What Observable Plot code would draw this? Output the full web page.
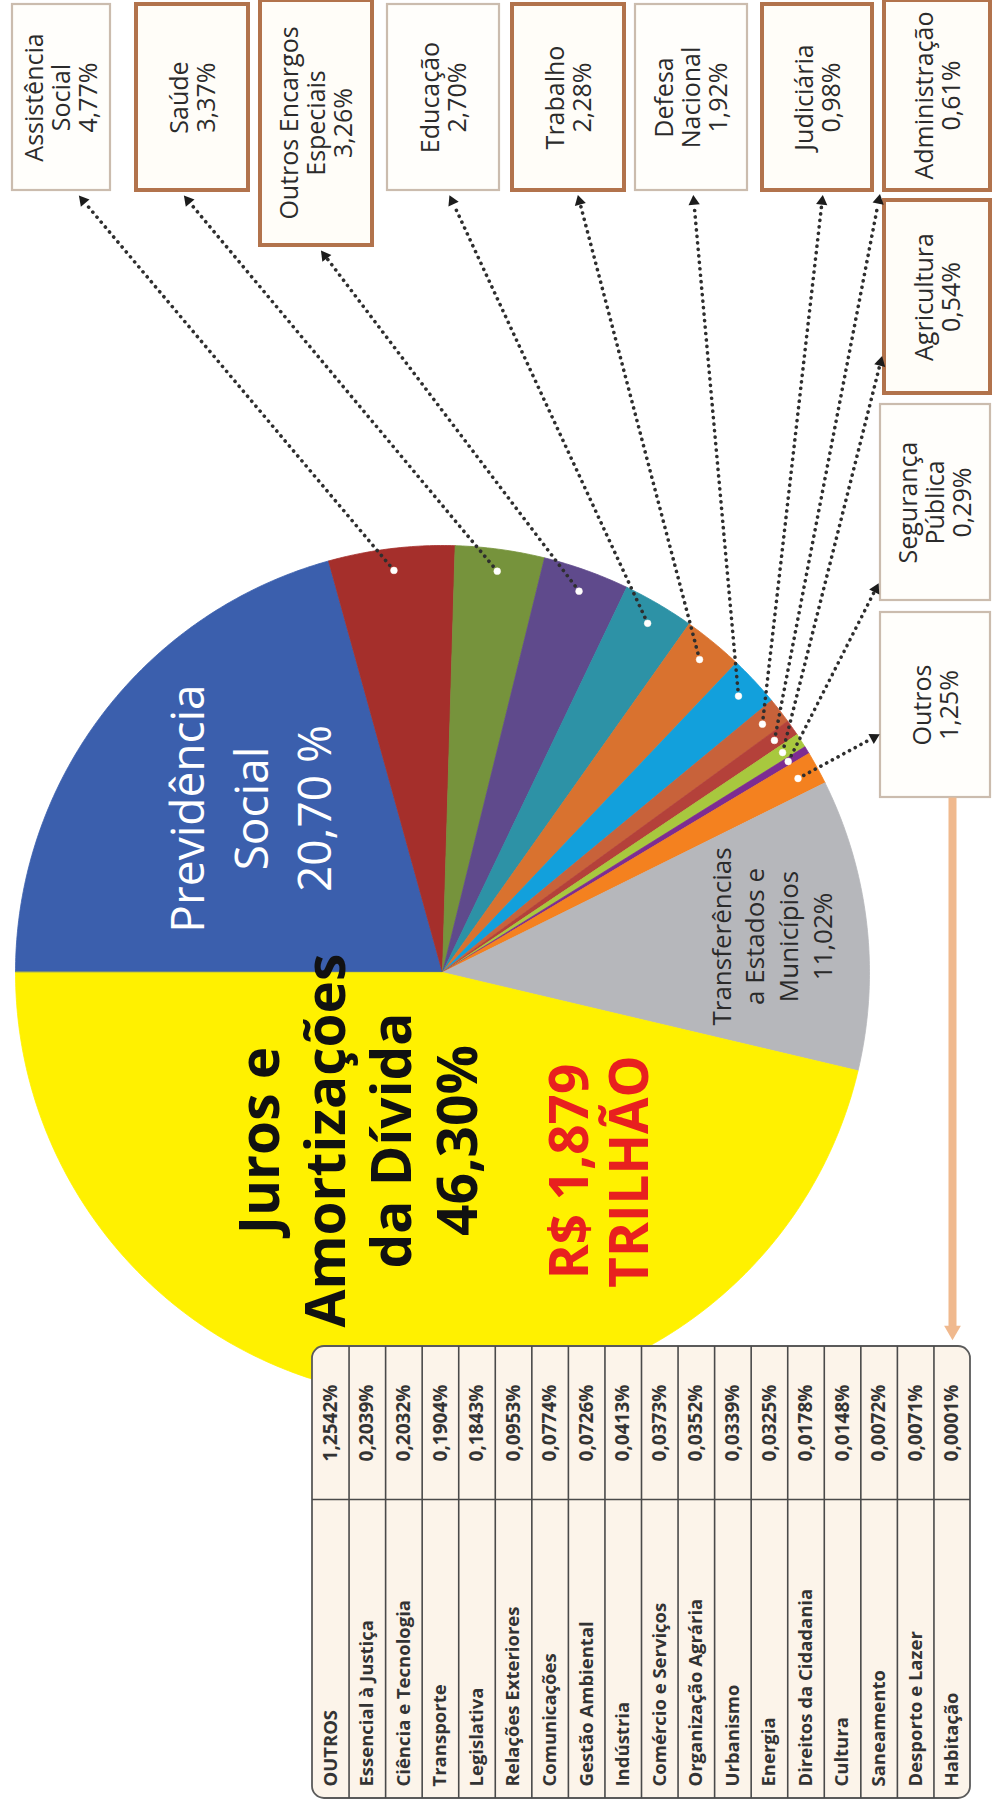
<!DOCTYPE html>
<html>
<head>
<meta charset="utf-8">
<script src="https://cdn.jsdelivr.net/npm/d3@7"></script>
<script src="https://cdn.jsdelivr.net/npm/@observablehq/plot@0.6"></script>
<style>
  html, body { margin: 0; padding: 0; background: #ffffff; }
  svg { display: block; }
</style>
</head>
<body>
<div id="chart"></div>
<script>
// ---------------- DATA ----------------
const sliceNames = [
  "Previdência Social", "Assistência Social", "Saúde", "Outros Encargos Especiais",
  "Educação", "Trabalho", "Defesa Nacional", "Judiciária", "Administração",
  "Agricultura", "Segurança Pública", "Outros",
  "Transferências a Estados e Municípios", "Juros e Amortizações da Dívida"
];
const sliceValues = [20.70, 4.77, 3.37, 3.26, 2.70, 2.28, 1.92, 0.98, 0.61, 0.54, 0.29, 1.25, 11.02, 46.30];

const insideLabels = [
  { name: "Previdência Social", text: "Previdência\nSocial\n20,70 %" },
  { name: "Juros e Amortizações da Dívida", text: "Juros e\nAmortizações\nda Dívida\n46,30%" },
  { name: "Transferências a Estados e Municípios", text: "Transferências\na Estados e\nMunicípios\n11,02%" }
];
const totalLabel = "R$ 1,879\nTRILHÃO";

const calloutNames = [
  "Assistência Social", "Saúde", "Outros Encargos Especiais", "Educação", "Trabalho",
  "Defesa Nacional", "Judiciária", "Administração", "Agricultura", "Segurança Pública", "Outros"
];
const calloutTexts = [
  "Assistência\nSocial\n4,77%", "Saúde\n3,37%", "Outros Encargos\nEspeciais\n3,26%",
  "Educação\n2,70%", "Trabalho\n2,28%", "Defesa\nNacional\n1,92%", "Judiciária\n0,98%",
  "Administração\n0,61%", "Agricultura\n0,54%", "Segurança\nPública\n0,29%", "Outros\n1,25%"
];

const tableNames = [
  "OUTROS", "Essencial à Justiça", "Ciência e Tecnologia", "Transporte", "Legislativa",
  "Relações Exteriores", "Comunicações", "Gestão Ambiental", "Indústria",
  "Comércio e Serviços", "Organização Agrária", "Urbanismo", "Energia",
  "Direitos da Cidadania", "Cultura", "Saneamento", "Desporto e Lazer", "Habitação"
];
const tableValues = [1.2542, 0.2039, 0.2032, 0.1904, 0.1843, 0.0953, 0.0774, 0.0726, 0.0413,
  0.0373, 0.0352, 0.0339, 0.0325, 0.0178, 0.0148, 0.0072, 0.0071, 0.0001];

// ---------------- STYLE / LAYOUT ----------------
const W = 993, H = 1813;
const FONT = "'Open Sans', 'DejaVu Sans', sans-serif";
const sliceColors = {
  "Previdência Social": "#3b5fad",
  "Assistência Social": "#a52f2b",
  "Saúde": "#76933c",
  "Outros Encargos Especiais": "#5f4a8c",
  "Educação": "#2d92a6",
  "Trabalho": "#d9722f",
  "Defesa Nacional": "#12a0dc",
  "Judiciária": "#c8623a",
  "Administração": "#b4413a",
  "Agricultura": "#a8c83e",
  "Segurança Pública": "#7d2c92",
  "Outros": "#f4811f",
  "Transferências a Estados e Municípios": "#b6b7bb",
  "Juros e Amortizações da Dívida": "#fff100"
};
const pieGeom = { cx: 442, cy: 972, r: 427, dotR: 405 };
const labelPos = {
  "Previdência Social": { x: 247, y: 808, size: 46, weight: "normal", color: "#ffffff", lh: 1.38 },
  "Juros e Amortizações da Dívida": { x: 356, y: 1140, size: 55, weight: "bold", color: "#111111", lh: 1.2 },
  "Transferências a Estados e Municípios": { x: 770, y: 936, size: 26, weight: "normal", color: "#2a2a2a", lh: 1.3 }
};
const totalPos = { x: 598, y: 1171, size: 53, color: "#e8201f", lh: 1.15 };

// callout boxes: rect + arrow tip
const boxLayout = [
  { x1: 12,  x2: 110, y1: 4,   y2: 190, tx: 80,  ty: 197, heavy: false },
  { x1: 136, x2: 248, y1: 4,   y2: 190, tx: 185, ty: 197, heavy: true },
  { x1: 260, x2: 372, y1: 0,   y2: 245, tx: 322, ty: 252, heavy: true },
  { x1: 387, x2: 499, y1: 4,   y2: 190, tx: 450, ty: 197, heavy: false },
  { x1: 512, x2: 624, y1: 4,   y2: 190, tx: 578, ty: 197, heavy: true },
  { x1: 635, x2: 747, y1: 4,   y2: 190, tx: 693, ty: 197, heavy: false },
  { x1: 762, x2: 872, y1: 4,   y2: 190, tx: 822, ty: 197, heavy: true },
  { x1: 884, x2: 990, y1: 0,   y2: 190, tx: 879, ty: 196, heavy: true },
  { x1: 884, x2: 990, y1: 200, y2: 393, tx: 881, ty: 358, heavy: true },
  { x1: 880, x2: 990, y1: 404, y2: 600, tx: 877, ty: 585, heavy: false },
  { x1: 880, x2: 990, y1: 612, y2: 797, tx: 877, ty: 735, heavy: false }
];
const tableBox = { x1: 312, x2: 970, y1: 1346, yDiv: 1499, y2: 1798 };
const orangeArrow = { x: 952, y1: 797, y2: 1338 };

// ---------------- DERIVED ----------------
const sliceData = sliceNames.map((name, i) => ({ name, value: sliceValues[i] }));
const arcs = d3.pie().sort(null).value(d => d.value)
  .startAngle(-Math.PI / 2).endAngle(3 * Math.PI / 2)(sliceData);

const piePts = [];
for (const a of arcs) {
  const n = Math.max(3, Math.ceil((a.endAngle - a.startAngle) / (Math.PI / 360)));
  piePts.push({ name: a.data.name, x: pieGeom.cx, y: pieGeom.cy });
  for (let i = 0; i <= n; i++) {
    const t = a.startAngle + (a.endAngle - a.startAngle) * i / n;
    piePts.push({ name: a.data.name, x: pieGeom.cx + pieGeom.r * Math.sin(t), y: pieGeom.cy - pieGeom.r * Math.cos(t) });
  }
}
const arcByName = new Map(arcs.map(a => [a.data.name, a]));

const callouts = calloutNames.map((name, i) => {
  const a = arcByName.get(name);
  const mid = (a.startAngle + a.endAngle) / 2;
  const sx = pieGeom.cx + pieGeom.dotR * Math.sin(mid);
  const sy = pieGeom.cy - pieGeom.dotR * Math.cos(mid);
  const b = boxLayout[i];
  const dx = b.tx - sx, dy = b.ty - sy, len = Math.hypot(dx, dy);
  const ux = dx / len, uy = dy / len;
  return {
    name, text: calloutTexts[i], ...b,
    sx, sy, ex: b.tx - ux * 8, ey: b.ty - uy * 8,
    hx: b.tx - ux * 4, hy: b.ty - uy * 4,
    rot: Math.atan2(ux, -uy) * 180 / Math.PI,
    cx: (b.x1 + b.x2) / 2, cy: (b.y1 + b.y2) / 2
  };
});

const colW = (tableBox.x2 - tableBox.x1) / tableNames.length;
const tableRows = tableNames.map((name, i) => ({
  name, value: tableValues[i],
  label: tableValues[i].toFixed(4).replace(".", ",") + "%",
  x: tableBox.x1 + colW * (i + 0.5)
}));
const dividers = d3.range(1, tableNames.length).map(i => tableBox.x1 + colW * i);

const labelRows = insideLabels.map(d => ({ ...d, ...labelPos[d.name] }));

// ---------------- PLOT ----------------
const chart = Plot.plot({
  width: W, height: H, margin: 0,
  x: { domain: [0, W], range: [0, W], axis: null },
  y: { domain: [0, H], range: [0, H], axis: null },
  color: { type: "identity" },
  style: { fontFamily: FONT, background: "#ffffff", overflow: "visible" },
  marks: [
    // pie slices
    Plot.line(piePts, {
      x: "x", y: "y", z: "name", curve: "linear-closed",
      fill: d => sliceColors[d.name], stroke: d => sliceColors[d.name], strokeWidth: 0.8
    }),
    // labels inside the pie
    ...labelRows.map(d => Plot.text([d], {
      x: "x", y: "y", text: "text", rotate: -90,
      fontSize: d.size, fontWeight: d.weight, fill: d.color, lineHeight: d.lh, fontFamily: FONT
    })),
    Plot.text([totalLabel], {
      x: totalPos.x, y: totalPos.y, text: d => d, rotate: -90,
      fontSize: totalPos.size, fontWeight: "bold", fill: totalPos.color, lineHeight: totalPos.lh
    }),
    // callout boxes
    Plot.rect(callouts.filter(d => !d.heavy), {
      x1: "x1", x2: "x2", y1: "y1", y2: "y2", fill: "#fffefb", stroke: "#cbbcae", strokeWidth: 2.2
    }),
    Plot.rect(callouts.filter(d => d.heavy), {
      x1: "x1", x2: "x2", y1: "y1", y2: "y2", fill: "#fffdf8", stroke: "#b2734c", strokeWidth: 4
    }),
    Plot.text(callouts, {
      x: "cx", y: "cy", text: "text", rotate: -90, fontSize: 25, lineHeight: 1.08, fill: "#2b2b2b"
    }),
    // dotted leader lines
    Plot.link(callouts, {
      x1: "sx", y1: "sy", x2: "ex", y2: "ey",
      stroke: "#2e2e2e", strokeWidth: 3.6, strokeDasharray: "0.1,6.4", strokeLinecap: "round"
    }),
    Plot.dot(callouts, {
      x: "hx", y: "hy", symbol: "triangle2", r: 5.4, fill: "#1c1c1c", rotate: "rot"
    }),
    Plot.dot(callouts, { x: "sx", y: "sy", r: 3.4, fill: "#ffffff", stroke: "#fff8ee", strokeWidth: 0.5 }),
    // orange arrow to the table
    Plot.link([orangeArrow], {
      x1: "x", x2: "x", y1: "y1", y2: d => d.y2 - 10, stroke: "#f0b98e", strokeWidth: 8
    }),
    Plot.dot([orangeArrow], {
      x: "x", y: d => d.y2 - 8, symbol: "triangle2", r: 8, rotate: 180, fill: "#f0b98e"
    }),
    // table
    Plot.rect([tableBox], {
      x1: "x1", x2: "x2", y1: "y1", y2: "y2", fill: "#fcf4ea", stroke: "#5a5a5a", strokeWidth: 1.8, rx: 12, ry: 12
    }),
    Plot.ruleX(dividers, { x: d => d, y1: tableBox.y1, y2: tableBox.y2, stroke: "#4a4a4a", strokeWidth: 1.6 }),
    Plot.ruleY([tableBox.yDiv], { y: d => d, x1: tableBox.x1, x2: tableBox.x2, stroke: "#4a4a4a", strokeWidth: 1.6 }),
    Plot.text(tableRows, {
      x: "x", y: (tableBox.y1 + tableBox.yDiv) / 2, text: "label", rotate: -90,
      fontSize: 19, fontWeight: "bold", fill: "#333333"
    }),
    Plot.text(tableRows, {
      x: "x", y: tableBox.y2 - 12, text: "name", rotate: -90, textAnchor: "start",
      fontSize: 18.5, fontWeight: "bold", fill: "#333333"
    })
  ]
});
document.getElementById("chart").appendChild(chart);
</script>
</body>
</html>
